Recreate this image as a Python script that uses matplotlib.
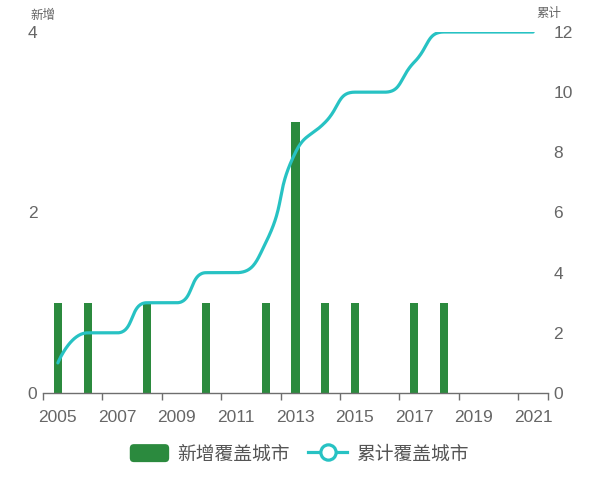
import numpy as np
import matplotlib
matplotlib.use("Agg")
import matplotlib.pyplot as plt
from matplotlib.lines import Line2D
from matplotlib.patches import Patch, FancyBboxPatch
from matplotlib.legend_handler import HandlerPatch

years = [str(y) for y in range(2005, 2022)]
new_cities = [1, 1, 0, 1, 0, 1, 0, 1, 3, 1, 1, 0, 1, 1, 0, 0, 0]
cum_cities = [1, 2, 2, 3, 3, 4, 4, 5, 8, 9, 10, 10, 11, 12, 12, 12, 12]
left_ticks = [0, 2, 4]
right_ticks = [0, 2, 4, 6, 8, 10, 12]
bar_name = "新增覆盖城市"
line_name = "累计覆盖城市"
left_axis_name = "新增"
right_axis_name = "累计"

BAR_C = "#2b8a3e"
LINE_C = "#27c2c3"
TXT_C = "#666666"
AX_C = "#6e6e6e"
CJK = ["Noto Sans CJK SC", "DejaVu Sans"]

W, H = 600, 482
fig = plt.figure(figsize=(W / 100, H / 100), dpi=100)
ax = fig.add_axes([43 / W, 1 - 393 / H, (548 - 43) / W, (393 - 32) / H])
ax2 = ax.twinx()

n = len(years)
x = np.arange(n)
ax.set_xlim(-0.5, n - 0.5)
ax.set_ylim(0, 4)
ax2.set_ylim(0, 12)

ax.bar(x, new_cities, width=0.27, color=BAR_C, zorder=2)

# ECharts-style smooth line, computed in pixel space
def smooth_points(px, py, smooth=0.5):
    pts = list(zip(px, py))
    out = [pts[0]]
    cpx0, cpy0 = pts[0]
    prevX, prevY = pts[0]
    N = len(pts)
    for i in range(1, N):
        xx, yy = pts[i]
        if i == N - 1:
            cpx1, cpy1 = xx, yy
            nc0x, nc0y = xx, yy
        else:
            nextX, nextY = pts[i + 1]
            dx0, dy0 = xx - prevX, yy - prevY
            dx1, dy1 = nextX - xx, nextY - yy
            lp = np.hypot(dx0, dy0)
            ln = np.hypot(dx1, dy1)
            vx, vy = nextX - prevX, nextY - prevY
            r = ln / (ln + lp)
            nc0x = xx + vx * smooth * r
            nc0y = yy + vy * smooth * r
            nc0x = min(nc0x, max(nextX, xx)); nc0y = min(nc0y, max(nextY, yy))
            nc0x = max(nc0x, min(nextX, xx)); nc0y = max(nc0y, min(nextY, yy))
            vx, vy = nc0x - xx, nc0y - yy
            cpx1 = xx - vx * lp / ln
            cpy1 = yy - vy * lp / ln
            cpx1 = min(cpx1, max(prevX, xx)); cpy1 = min(cpy1, max(prevY, yy))
            cpx1 = max(cpx1, min(prevX, xx)); cpy1 = max(cpy1, min(prevY, yy))
            vx, vy = xx - cpx1, yy - cpy1
            nc0x = xx + vx * ln / lp
            nc0y = yy + vy * ln / lp
        t = np.linspace(0, 1, 40)[1:]
        p0 = np.array([prevX, prevY]); p1 = np.array([cpx0, cpy0])
        p2 = np.array([cpx1, cpy1]); p3 = np.array([xx, yy])
        for tt in t:
            b = ((1 - tt) ** 3) * p0 + 3 * ((1 - tt) ** 2) * tt * p1 + 3 * (1 - tt) * tt ** 2 * p2 + tt ** 3 * p3
            out.append(tuple(b))
        cpx0, cpy0 = nc0x, nc0y
        prevX, prevY = xx, yy
    return np.array(out)

disp = ax2.transData.transform(np.column_stack([x, cum_cities]).astype(float))
curve_disp = smooth_points(disp[:, 0], disp[:, 1])
curve = ax2.transData.inverted().transform(curve_disp)
ax2.plot(curve[:, 0], curve[:, 1], color=LINE_C, lw=2.3, solid_capstyle="round", zorder=3)

# axes styling
for s in ["left", "right", "top"]:
    ax.spines[s].set_visible(False)
    ax2.spines[s].set_visible(False)
ax2.spines["bottom"].set_visible(False)
ax.spines["bottom"].set_color(AX_C)
ax.spines["bottom"].set_linewidth(1)

ax.set_xticks(x[::2])
ax.set_xticklabels(years[::2])
ax.set_xticks(np.arange(-0.5, n, 2.0).tolist() + [n - 0.5], minor=True)
ax.tick_params(axis="x", which="major", length=0, pad=12, labelsize=12.5, labelcolor=TXT_C)
ax.tick_params(axis="x", which="minor", length=5, width=1, color=AX_C, direction="out")

ax.set_yticks(left_ticks)
ax.tick_params(axis="y", length=0, pad=4, labelsize=12.5, labelcolor=TXT_C)
ax2.set_yticks(right_ticks)
ax2.tick_params(axis="y", length=0, pad=4, labelsize=12.5, labelcolor=TXT_C)

for lab in ax.get_xticklabels() + ax.get_yticklabels() + ax2.get_yticklabels():
    lab.set_family(["Liberation Sans", "DejaVu Sans"])

fig.text(30 / W, 1 - 15 / H, left_axis_name, family=CJK, fontsize=9, color=TXT_C,
         ha="left", va="center")
fig.text(536 / W, 1 - 14 / H, right_axis_name, family=CJK, fontsize=9, color=TXT_C,
         ha="left", va="center")

# legend
class HandlerRound(HandlerPatch):
    def create_artists(self, legend, orig_handle, xdescent, ydescent, width, height, fontsize, trans):
        r = 3
        p = FancyBboxPatch((-xdescent + r, -ydescent + r), width - 2 * r, height - 2 * r,
                           boxstyle=f"round,pad={r}", facecolor=BAR_C, edgecolor="none",
                           transform=trans)
        return [p]

h_bar = Patch(facecolor=BAR_C, label=bar_name)
h_line = Line2D([], [], color=LINE_C, lw=2.3, marker="o", markersize=11,
                markerfacecolor="white", markeredgecolor=LINE_C, markeredgewidth=2.3,
                label=line_name)
leg = fig.legend(handles=[h_bar, h_line], loc="center", bbox_to_anchor=(299 / W, 1 - 454 / H),
                 ncol=2, frameon=False, prop={"family": CJK, "size": 13.5},
                 handlelength=2.1, handleheight=1.1, handletextpad=0.45, columnspacing=0.95,
                 handler_map={Patch: HandlerRound()}, borderpad=0, borderaxespad=0)
for t in leg.get_texts():
    t.set_color("#555555")

fig.savefig("out.png", dpi=100)
